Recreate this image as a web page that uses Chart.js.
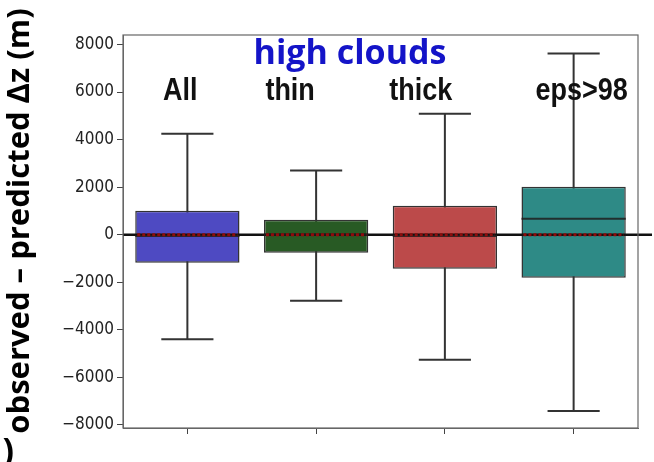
<!DOCTYPE html>
<html lang="en">
  <head>
    <meta charset="UTF-8" />
    <title>high clouds box plot</title>
    <script src="https://cdn.jsdelivr.net/npm/chart.js"></script>
    <style>
      body {
        margin: 0;
        padding: 0;
        background: #fff;
      }
      .wrap {
        width: 654px;
        height: 462px;
        position: relative;
      }
    </style>
  </head>
  <body>
    <div class="wrap">
      <canvas id="boxChart" width="654" height="462"></canvas>
    </div>

    <script>
      // values (metres)
      const categories = ["All", "thin", "thick", "eps>98"];
      const whiskerLow = [-4400, -2780, -5260, -7410];
      const q1 = [-1180, -760, -1430, -1810];
      const medians = [-50, 0, -50, 670];
      const q3 = [1010, 630, 1220, 2020];
      const whiskerHigh = [4250, 2700, 5090, 7620];
      const meanLine = [0, 0, 0, 0]; // red dotted line inside each box
      const yTicks = [-8000, -6000, -4000, -2000, 0, 2000, 4000, 6000, 8000];

      const boxColors = ["#4e4ac2", "#285a24", "#bc4a4a", "#2e8a86"];
      const labelShift = [-7, -26, -24, 8]; // text labels sit a bit off centre
      const yTitle = "observed – predicted Δz (m)";

      const boxPlugin = {
        id: "boxParts",
        beforeDatasetsDraw(chart) {
          const { ctx, scales } = chart;
          const x = scales.x, y = scales.y;
          const meta = chart.getDatasetMeta(0);
          ctx.save();
          ctx.strokeStyle = "#333";
          ctx.lineWidth = 2;
          categories.forEach((c, i) => {
            const cx = x.getPixelForValue(i);
            const half = meta.data[i].width / 4;
            const yl = y.getPixelForValue(whiskerLow[i]);
            const yh = y.getPixelForValue(whiskerHigh[i]);
            ctx.beginPath();
            ctx.moveTo(cx, yl);
            ctx.lineTo(cx, yh);
            ctx.moveTo(cx - half, yl);
            ctx.lineTo(cx + half, yl);
            ctx.moveTo(cx - half, yh);
            ctx.lineTo(cx + half, yh);
            ctx.stroke();
          });
          ctx.restore();
        },
        afterDatasetsDraw(chart) {
          const { ctx, chartArea, scales } = chart;
          const y = scales.y;
          const meta = chart.getDatasetMeta(0);
          ctx.save();
          // zero line across the plot
          const y0 = y.getPixelForValue(0);
          ctx.strokeStyle = "#111";
          ctx.lineWidth = 2.5;
          ctx.beginPath();
          ctx.moveTo(chartArea.left, y0);
          ctx.lineTo(chart.width - 2, y0);
          ctx.stroke();
          categories.forEach((c, i) => {
            const bar = meta.data[i];
            const l = bar.x - bar.width / 2, r = bar.x + bar.width / 2;
            // median
            const ym = y.getPixelForValue(medians[i]);
            ctx.strokeStyle = "rgba(30,30,30,0.85)";
            ctx.lineWidth = 2;
            ctx.setLineDash([]);
            ctx.beginPath();
            ctx.moveTo(l, ym);
            ctx.lineTo(r, ym);
            ctx.stroke();
            // red dotted line
            const yr = y.getPixelForValue(meanLine[i]);
            ctx.strokeStyle = "#8e0c0c";
            ctx.lineWidth = 3;
            ctx.setLineDash([3, 2]);
            ctx.beginPath();
            ctx.moveTo(l + 2, yr);
            ctx.lineTo(r - 2, yr);
            ctx.stroke();
          });
          ctx.restore();
        },
        afterDraw(chart) {
          const { ctx, chartArea, scales } = chart;
          const x = scales.x;
          ctx.save();
          // frame
          ctx.strokeStyle = "#666";
          ctx.lineWidth = 1.2;
          ctx.strokeRect(chartArea.left, chartArea.top, chartArea.width, chartArea.height);
          // category labels inside the plot (a bit stretched vertically, like the original)
          ctx.fillStyle = "#111";
          ctx.font = "bold 27px 'Liberation Sans', sans-serif";
          ctx.textAlign = "center";
          ctx.textBaseline = "alphabetic";
          categories.forEach((c, i) => {
            ctx.save();
            ctx.translate(x.getPixelForValue(i) + labelShift[i], chartArea.top + 65);
            ctx.scale(1, 1.13);
            ctx.fillText(c, 0, 0);
            ctx.restore();
          });
          // panel title
          ctx.fillStyle = "#1414c8";
          ctx.font = "bold 34px 'Open Sans', sans-serif";
          ctx.fillText("high clouds", 350, chartArea.top + 29);
          // y axis title
          ctx.save();
          ctx.translate(20, 221);
          ctx.rotate(-Math.PI / 2);
          ctx.fillStyle = "#000";
          ctx.font = "bold 31px 'Open Sans', sans-serif";
          ctx.textBaseline = "middle";
          ctx.fillText(yTitle, 0, 0);
          ctx.restore();
          // panel letter, cut off at the edge
          ctx.fillStyle = "#000";
          ctx.font = "bold 34px 'Open Sans', sans-serif";
          ctx.textAlign = "right";
          ctx.fillText("a)", 14, 462);
          ctx.restore();
        },
      };

      new Chart(document.getElementById("boxChart"), {
        type: "bar",
        data: {
          labels: categories,
          datasets: [
            {
              data: categories.map((c, i) => [q1[i], q3[i]]),
              backgroundColor: boxColors,
              borderColor: "#333",
              borderWidth: 1.5,
              borderSkipped: false,
              barPercentage: 0.81,
              categoryPercentage: 1,
            },
          ],
        },
        options: {
          responsive: false,
          animation: false,
          layout: { padding: { left: 0, right: 16, top: 35, bottom: 0 } },
          plugins: {
            legend: { display: false },
            tooltip: { enabled: false },
          },
          scales: {
            x: {
              offset: true,
              grid: {
                offset: false,
                drawOnChartArea: false,
                drawTicks: true,
                tickLength: 6,
                color: "#444",
              },
              border: { color: "#666" },
              ticks: { callback: () => "" },
              afterFit(scale) {
                scale.height = 34;
              },
            },
            y: {
              min: -8130,
              max: 8400,
              afterBuildTicks(scale) {
                scale.ticks = yTicks.map((v) => ({ value: v }));
              },
              grid: {
                drawOnChartArea: false,
                drawTicks: true,
                tickLength: 6,
                color: "#444",
              },
              border: { color: "#666" },
              ticks: {
                color: "#222",
                padding: 3,
                font: { family: "'DejaVu Sans Condensed', 'DejaVu Sans', sans-serif", size: 17 },
                callback: (v) => (v < 0 ? "\u2212" + Math.abs(v) : String(v)),
              },
              afterFit(scale) {
                scale.width = 123;
              },
            },
          },
        },
        plugins: [boxPlugin],
      });
    </script>
  </body>
</html>
